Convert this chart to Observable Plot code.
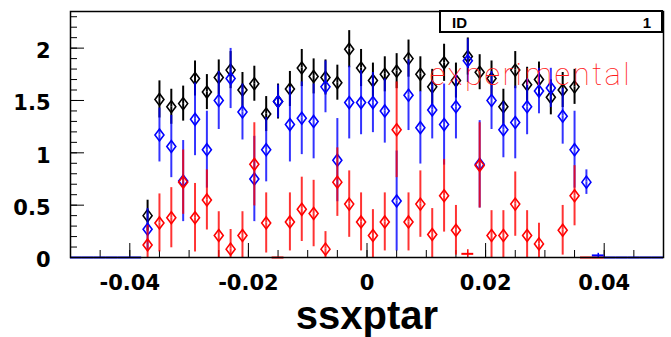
<!DOCTYPE html>
<html><head><meta charset="utf-8">
<script src="https://cdn.jsdelivr.net/npm/d3@7"></script>
<script src="https://cdn.jsdelivr.net/npm/@observablehq/plot@0.6"></script>
<style>
body{margin:0;background:#fff;}
#wrap{position:relative;width:671px;height:337px;overflow:hidden;}
#stats{position:absolute;left:439px;top:10px;width:224px;height:23px;border:2px solid #000;background:#fff;box-sizing:border-box;font:bold 15px "Liberation Sans",Arial,sans-serif;}
#stats .k{position:absolute;left:11px;top:2px;}
#stats .v{position:absolute;right:10px;top:2px;}
</style></head><body><div id="wrap"><div id="stats"><span class="k">ID</span><span class="v">1</span></div></div>
<script>
// bin centres (bin width 0.002)
const bins = [-0.037,-0.035,-0.033,-0.031,-0.029,-0.027,-0.025,-0.023,-0.021,-0.019,-0.017,-0.015,-0.013,-0.011,-0.009,-0.007,-0.005,-0.003,-0.001,
  0.001,0.003,0.005,0.007,0.009,0.011,0.013,0.015,0.017,0.019,0.021,0.023,0.025,0.027,0.029,0.031,0.033,0.035,0.037];
const blackVal = [0.40,1.51,1.44,1.47,1.71,1.58,1.72,1.79,1.60,1.66,1.37,1.49,1.61,1.81,1.73,1.72,1.67,1.99,1.81,
  1.69,1.75,1.78,1.90,1.75,1.63,1.86,1.69,1.92,1.77,1.71,1.44,1.79,1.65,1.70,1.53,1.60,1.63,null];
const blackErr = [0.09,0.12,0.11,0.11,0.11,0.11,0.11,0.12,0.11,0.11,0.11,0.11,0.11,0.12,0.11,0.11,0.11,0.12,0.12,
  0.11,0.11,0.11,0.12,0.11,0.11,0.12,0.11,0.12,0.11,0.11,0.11,0.12,0.11,0.11,0.11,0.11,0.11,null];
const blueVal = [0.27,1.17,1.06,0.73,1.32,1.03,1.50,1.71,1.39,0.75,1.03,1.49,1.27,1.33,1.30,1.63,0.93,1.48,1.48,
  1.48,1.40,0.54,1.55,1.24,1.41,1.27,1.44,1.88,0.89,1.50,1.22,1.29,1.44,1.59,1.62,1.35,1.03,0.72];
const blueErr = [0.14,0.20,0.24,0.33,0.29,0.31,0.22,0.23,0.21,0.35,0.25,0.10,0.30,0.29,0.30,0.19,0.34,0.29,0.25,
  0.23,0.25,0.42,0.28,0.29,0.22,0.33,0.25,0.15,0.36,0.22,0.21,0.29,0.21,0.16,0.13,0.21,0.31,0.06];
const redVal = [0.12,0.33,0.38,0.72,0.38,0.55,0.21,0.08,0.21,0.89,0.33,null,0.34,0.46,0.42,0.08,0.72,0.51,0.34,
  0.21,0.34,1.22,0.34,0.51,0.22,0.59,0.26,null,0.88,0.21,0.21,0.51,0.21,0.13,null,0.26,0.59,null];
const redErr = [0.13,0.22,0.23,0.25,0.27,0.23,0.17,0.13,0.17,0.34,0.23,null,0.22,0.25,0.26,0.11,0.27,0.26,0.22,
  0.19,0.22,0.40,0.22,0.26,0.19,0.29,0.18,null,0.35,0.18,0.18,0.25,0.18,0.14,null,0.18,0.23,null];
// near-empty bins drawn only as flat error crosses
const flatBins  = [-0.049,-0.047,-0.045,-0.043,-0.041,-0.039, 0.041,0.043,0.045,0.047,0.049, 0.039, -0.015, 0.017, 0.037, 0.039];
const flatVal   = [0,0,0,0,0,0, 0,0,0,0,0, 0.02, 0, 0.035, 0, 0];
const flatErr   = [0,0,0,0,0,0, 0,0,0,0,0, 0.02, 0, 0.04, 0, 0];
const flatSeries= ["blue","blue","blue","blue","blue","blue","blue","blue","blue","blue","blue","blue","red","red","red","red"];

const xMajor = [-0.04,-0.02,0,0.02,0.04];
const xMinor = d3.range(-50, 51, 5).map(v => v / 1000);
const yMajor = [0,0.5,1,1.5,2];
const yMinor = d3.range(0, 24, 1).map(v => v / 10);
const xTitle = "ssxptar";
const note = "experimental";

const colors = {black: "#000000", blue: "#0000ff", red: "#ff0000"};
function rows(vals, errs, s) {
  return bins.map((x, i) => ({x, y: vals[i], e: errs[i], s})).filter(d => d.y != null);
}
const series = [rows(blackVal, blackErr, "black"), rows(blueVal, blueErr, "blue"), rows(redVal, redErr, "red")];
const flat = flatBins.map((x, i) => ({x, y: flatVal[i], e: flatErr[i], s: flatSeries[i]}));

const diamond = {draw(ctx) { ctx.moveTo(0, -6); ctx.lineTo(4.5, 0); ctx.lineTo(0, 6); ctx.lineTo(-4.5, 0); ctx.closePath(); }};

const marks = [];
for (const data of series) {
  const c = colors[data[0].s];
  const op = data[0].s === "black" ? 1 : 0.8;
  marks.push(
    Plot.ruleX(data, {x: "x", y1: "y", y2: d => d.y + d.e, insetBottom: 6, stroke: c, strokeWidth: 2, strokeOpacity: op, clip: true}),
    Plot.ruleX(data, {x: "x", y1: d => d.y - d.e, y2: "y", insetTop: 6, stroke: c, strokeWidth: 2, strokeOpacity: op, clip: true}),
    Plot.dot(data, {x: "x", y: "y", symbol: diamond, stroke: c, fill: "none", strokeWidth: 1.6, clip: true})
  );
}
for (const s of ["red", "blue"]) {
  const data = flat.filter(d => d.s === s);
  marks.push(
    Plot.ruleY(data, {y: "y", x1: d => d.x - 0.001, x2: d => d.x + 0.001, stroke: colors[s], strokeWidth: 2}),
    Plot.ruleX(data.filter(d => d.e > 0), {x: "x", y1: d => Math.max(0, d.y - d.e), y2: d => d.y + d.e, stroke: colors[s], strokeWidth: 1.5})
  );
}

const tickFont = "'DejaVu Sans', sans-serif";
const chart = Plot.plot({
  width: 671, height: 337,
  marginLeft: 70, marginRight: 8, marginTop: 11, marginBottom: 80,
  x: {domain: [-0.05, 0.05], label: null},
  y: {domain: [0, 2.35], label: null},
  style: {fontFamily: "'Liberation Sans', Arial, sans-serif", color: "#000", background: "#fff", overflow: "visible"},
  marks: [
    Plot.axisX({ticks: xMinor, tickSize: 7, dy: -7, text: null, label: null, stroke: "#000"}),
    Plot.axisX({ticks: xMajor, tickSize: 14, dy: -14, text: null, label: null, stroke: "#000"}),
    Plot.axisX({ticks: xMajor, tickSize: 0, tickPadding: 18, tickFormat: d => String(d), fontSize: 21, fontWeight: "bold", fontFamily: tickFont, label: null}),
    Plot.axisY({ticks: yMinor, tickSize: 7, dx: 7, text: null, label: null, stroke: "#000"}),
    Plot.axisY({ticks: yMajor, tickSize: 14, dx: 14, text: null, label: null, stroke: "#000"}),
    Plot.axisY({ticks: yMajor, tickSize: 0, tickPadding: 20, dy: 3, tickFormat: d => String(d), fontSize: 21, fontWeight: "bold", fontFamily: tickFont, label: null}),
    ...marks,
    Plot.frame({stroke: "#000", strokeWidth: 1.5}),
    Plot.text([note], {frameAnchor: "top-left", dx: 359, dy: 64, text: d => d, textAnchor: "start", lineAnchor: "middle",
      fontSize: 31, fontWeight: 100, fontFamily: "Roboto", fill: "#ff1a1a", ariaLabel: "note"}),
    Plot.text([xTitle], {frameAnchor: "bottom", dy: 59, text: d => d, lineAnchor: "middle", fontSize: 40, fontWeight: "bold"})
  ]
});
d3.select(chart).selectAll("text").filter(function() { return this.textContent === note; }).style("letter-spacing", "2.5px");
document.getElementById("wrap").prepend(chart);
</script>
</body></html>
